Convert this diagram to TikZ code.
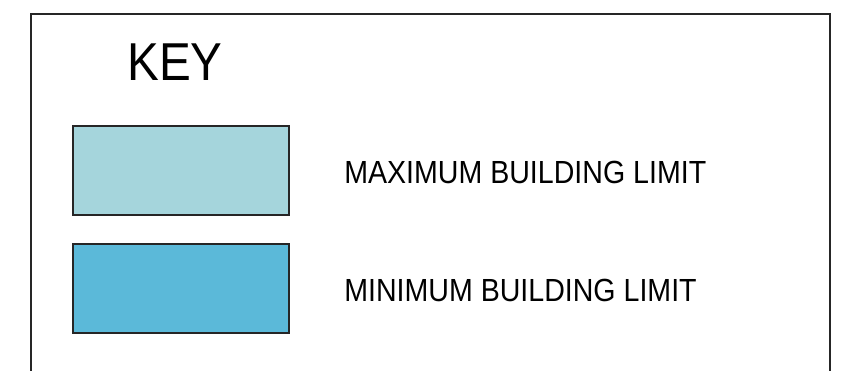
\documentclass[tikz,border=0pt]{standalone}
\usepackage{fontspec}
\setmainfont[FakeStretch=0.893]{Liberation Sans}
\usepackage{xcolor}
\usepackage{tikz}
\definecolor{maxblue}{HTML}{A5D5DC}
\definecolor{minblue}{HTML}{5BB9D9}
\tikzset{
	keybox/.style={draw=black!85, line width=1.5pt, minimum width=162pt, minimum height=66.75pt, inner sep=0pt},
	keytext/.style={anchor=base west, inner sep=0pt, font=\fontsize{24}{28}\selectfont}
}

\begin{document}
\begin{tikzpicture}[x=0.75pt,y=-0.75pt]
		\useasboundingbox (0,0) rectangle (867,371);
		%frame
		\draw[black!85, line width=1.5pt] (31,371) -- (31,14) -- (830,14) -- (830,371);
		%title
		\node[anchor=base west, inner sep=0pt, font=\fontsize{40}{46}\selectfont] (title) at (127,80) {KEY};
		%swatches
		\node[keybox, fill=maxblue] (maxbox) at (181,170.5) {};
		\node[keybox, fill=minblue] (minbox) at (181,288.5) {};
		%labels
		\node[keytext] (maxlabel) at (344,183.5) {MAXIMUM BUILDING LIMIT};
		\node[keytext] (minlabel) at (344,301.5) {MINIMUM BUILDING LIMIT};
	\end{tikzpicture}
\end{document}
